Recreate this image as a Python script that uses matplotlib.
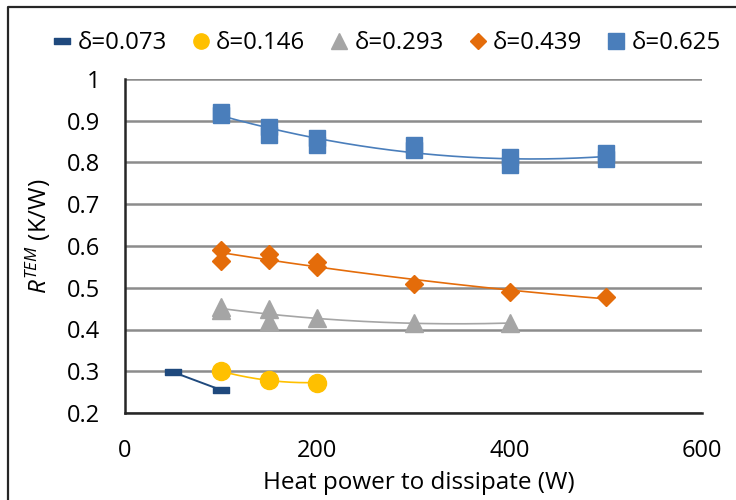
import numpy as np
import matplotlib
matplotlib.use("Agg")
import matplotlib.pyplot as plt
from matplotlib.lines import Line2D
from matplotlib.path import Path

FONT = 'Open Sans'
plt.rcParams['font.family'] = [FONT, 'DejaVu Sans']
plt.rcParams['mathtext.fontset'] = 'custom'
plt.rcParams['mathtext.rm'] = FONT
plt.rcParams['mathtext.it'] = FONT + ':italic'

# ---- data ----
labels = ["δ=0.073", "δ=0.146", "δ=0.293", "δ=0.439", "δ=0.625"]

x_073 = [50, 100]
y_073 = [0.298, 0.255]

x_146 = [100, 150, 200]
y_146 = [0.300, 0.278, 0.273]

x_293 = [100, 100, 150, 150, 200, 300, 400]
y_293 = [0.455, 0.447, 0.450, 0.421, 0.427, 0.416, 0.415]

x_439 = [100, 100, 150, 150, 200, 200, 300, 400, 500]
y_439 = [0.590, 0.563, 0.582, 0.567, 0.562, 0.549, 0.508, 0.490, 0.478]

x_625 = [100, 100, 150, 150, 200, 200, 300, 300, 400, 400, 500, 500]
y_625 = [0.922, 0.914, 0.886, 0.867, 0.858, 0.843, 0.842, 0.829, 0.814, 0.793, 0.822, 0.808]

x_ticks = [0, 200, 400, 600]
y_ticks = [0.2, 0.3, 0.4, 0.5, 0.6, 0.7, 0.8, 0.9, 1.0]
y_ticklabels = ["0.2", "0.3", "0.4", "0.5", "0.6", "0.7", "0.8", "0.9", "1"]

c_073 = "#1F497D"
c_146 = "#FFC000"
c_293 = "#A5A5A5"
c_439 = "#E46C0A"
c_625 = "#4A7EBB"

FS_TICK = 17
FS_LAB = 17.5
FS_LEG = 17.3

dash = Path([(-1, -0.38), (1, -0.38), (1, 0.38), (-1, 0.38), (-1, -0.38)],
            [Path.MOVETO, Path.LINETO, Path.LINETO, Path.LINETO, Path.CLOSEPOLY])

fig = plt.figure(figsize=(7.36, 5.0), dpi=100)
ax = fig.add_axes([125/736, 87/500, (702-125)/736, (413-79)/500])

ax.set_xlim(0, 600)
ax.set_ylim(0.2, 1.0)
ax.set_xticks(x_ticks)
ax.set_yticks(y_ticks)
ax.set_yticklabels(y_ticklabels)
ax.tick_params(length=0, labelsize=FS_TICK, pad=18, colors="#000000")
ax.tick_params(axis='x', pad=19)
ax.grid(axis='y', color="#8C8C8C", lw=1.8, zorder=0)
ax.set_axisbelow(True)
for s in ['top', 'right']:
    ax.spines[s].set_visible(False)
for s in ['left', 'bottom']:
    ax.spines[s].set_color("#262626")
    ax.spines[s].set_linewidth(1.8)

def trend(x, y, color, deg):
    xs = np.linspace(min(x), max(x), 200)
    p = np.polyfit(x, y, deg)
    ax.plot(xs, np.polyval(p, xs), color=color, lw=1.2, zorder=2)

# trend lines
ax.plot(x_073, y_073, color=c_073, lw=1.4, zorder=2)
trend(x_146, y_146, c_146, 2)
trend(x_293, y_293, c_293, 2)
trend(x_439, y_439, c_439, 2)
trend(x_625, y_625, c_625, 2)

ax.plot(x_073, y_073, ls='none', marker=dash, ms=12, color=c_073, zorder=3)
ax.plot(x_146, y_146, ls='none', marker='o', ms=13, color=c_146, zorder=3)
ax.plot(x_293, y_293, ls='none', marker='^', ms=13, color=c_293, zorder=3)
ax.plot(x_439, y_439, ls='none', marker='D', ms=9, color=c_439, zorder=3)
ax.plot(x_625, y_625, ls='none', marker='s', ms=12, color=c_625, zorder=3)

ax.set_xlabel("Heat power to dissipate (W)", fontsize=FS_LAB)
ax.xaxis.set_label_coords(0.51, -0.175)
ax.set_ylabel(r"$R^{TEM}$ (K/W)", fontsize=FS_LAB)
ax.yaxis.set_label_coords(-0.125, 0.53)

handles = [
    Line2D([], [], ls='none', marker=dash, ms=12, color=c_073),
    Line2D([], [], ls='none', marker='o', ms=11, color=c_146),
    Line2D([], [], ls='none', marker='^', ms=11, color=c_293),
    Line2D([], [], ls='none', marker='D', ms=8, color=c_439),
    Line2D([], [], ls='none', marker='s', ms=11, color=c_625),
]
fig.legend(handles, labels, loc='center', bbox_to_anchor=(0.525, 1 - 43/500),
           ncol=5, frameon=False, fontsize=FS_LEG, handlelength=0.85,
           handletextpad=0.2, columnspacing=1.0)

# outer chart border
fig.add_artist(Line2D([8/736, 8/736, 1.01], [-0.01, 1 - 7/500, 1 - 7/500],
                      transform=fig.transFigure, color="#262626", lw=1.6))

fig.savefig("out.png", dpi=100)
